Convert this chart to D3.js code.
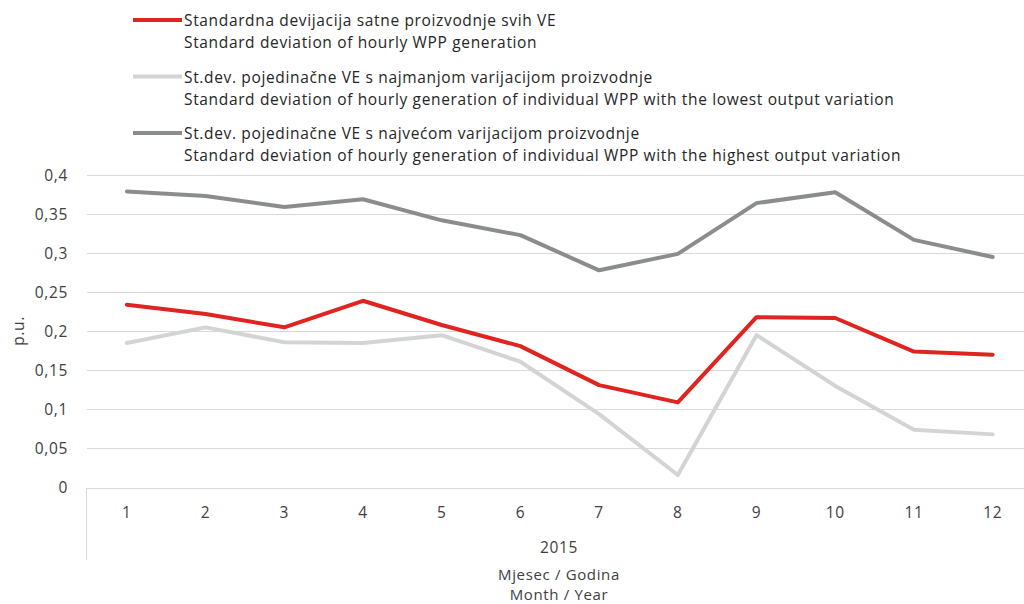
<!DOCTYPE html>
<html><head><meta charset="utf-8">
<script src="https://cdn.jsdelivr.net/npm/d3@7"></script>
<style>body{margin:0;background:#fff;} svg{display:block;} text{font-family:"Open Sans", Lato, sans-serif;letter-spacing:0.65px;}</style>
</head><body>
<svg id="c" width="1024" height="604"></svg>
<script>
const months = ["1","2","3","4","5","6","7","8","9","10","11","12"];
const allWPP = [0.234,0.222,0.205,0.239,0.208,0.181,0.131,0.109,0.218,0.217,0.174,0.170];
const lowestWPP = [0.185,0.205,0.186,0.185,0.195,0.161,0.094,0.016,0.195,0.130,0.074,0.068];
const highestWPP = [0.379,0.373,0.359,0.369,0.342,0.323,0.278,0.299,0.364,0.378,0.317,0.295];
const yTicks = [0,0.05,0.1,0.15,0.2,0.25,0.3,0.35,0.4];
const yTickLabels = ["0","0,05","0,1","0,15","0,2","0,25","0,3","0,35","0,4"];
const seriesNames = [
  ["Standardna devijacija satne proizvodnje svih VE","Standard deviation of hourly WPP generation"],
  ["St.dev. pojedinačne VE s najmanjom varijacijom proizvodnje","Standard deviation of hourly generation of individual WPP with the lowest output variation"],
  ["St.dev. pojedinačne VE s najvećom varijacijom proizvodnje","Standard deviation of hourly generation of individual WPP with the highest output variation"]
];
const seriesColors = ["#e0241f","#d3d4d4","#8b8c8d"];
const seriesData = [allWPP, lowestWPP, highestWPP];

const svg = d3.select("#c");
const x = d3.scaleBand().domain(months).range([87.5, 1032]);
const y = d3.scaleLinear().domain([0,0.4]).range([487.5, 175]);
const txt = "#404040";
const fs = 15.5;

svg.append("g").selectAll("line").data(yTicks).join("line")
  .attr("x1",87).attr("x2",1024)
  .attr("y1",d=>Math.round(y(d))+0.5).attr("y2",d=>Math.round(y(d))+0.5)
  .attr("stroke","#d9d9d9").attr("stroke-width",1);
svg.append("g").selectAll("text").data(yTicks).join("text")
  .attr("x",68).attr("y",d=>y(d)+5.5).attr("text-anchor","end")
  .attr("font-size",fs).attr("fill",txt)
  .text((d,i)=>yTickLabels[i]);
svg.append("line").attr("x1",86.5).attr("x2",86.5).attr("y1",488).attr("y2",560)
  .attr("stroke","#d9d9d9");
svg.append("g").selectAll("text").data(months).join("text")
  .attr("x",d=>x(d)+x.bandwidth()/2).attr("y",518).attr("text-anchor","middle")
  .attr("font-size",fs).attr("fill",txt).text(d=>d);
svg.append("text").attr("x",559).attr("y",553).attr("text-anchor","middle")
  .attr("font-size",fs).attr("fill",txt).text("2015");
svg.append("text").attr("x",559).attr("y",580).attr("text-anchor","middle")
  .attr("font-size",15).attr("fill",txt).text("Mjesec / Godina");
svg.append("text").attr("x",559).attr("y",600).attr("text-anchor","middle")
  .attr("font-size",15).attr("fill",txt).text("Month / Year");
svg.append("text").attr("transform","translate(24,331) rotate(-90)").attr("text-anchor","middle")
  .attr("font-size",fs).attr("fill",txt).text("p.u.");

const line = d3.line().x((d,i)=>x(months[i])+x.bandwidth()/2).y(d=>y(d));
[2,1,0].forEach(k=>{
  svg.append("path").datum(seriesData[k]).attr("d",line)
    .attr("fill","none").attr("stroke",seriesColors[k]).attr("stroke-width",4)
    .attr("stroke-linejoin","round").attr("stroke-linecap","round");
});

const lg = svg.append("g");
seriesNames.forEach((nm,i)=>{
  const yy = 20 + i*56.5;
  lg.append("line").attr("x1",133).attr("x2",182).attr("y1",yy).attr("y2",yy)
    .attr("stroke",seriesColors[i]).attr("stroke-width",4);
  lg.append("text").attr("x",184).attr("y",yy+6).attr("font-size",fs).attr("fill","#262626").text(nm[0]);
  lg.append("text").attr("x",184).attr("y",yy+28).attr("font-size",fs).attr("fill","#262626").text(nm[1]);
});
</script>
</body></html>
